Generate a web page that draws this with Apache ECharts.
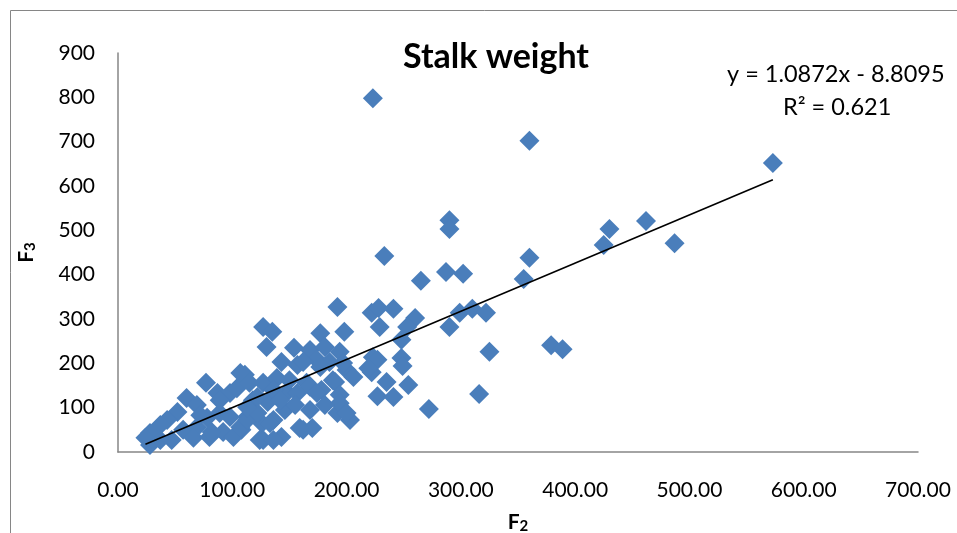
<!DOCTYPE html>
<html>
<head>
<meta charset="utf-8">
<script src="https://cdn.jsdelivr.net/npm/echarts@6/dist/echarts.min.js"></script>
<style>
  html, body { margin: 0; padding: 0; background: #fff; }
  #chart { width: 957px; height: 533px; }
</style>
</head>
<body>
<div id="chart"></div>
<script>
// F2 stalk weight (x) against F3 stalk weight (y)
const f2 = [
  223, 360, 573, 462, 487, 430, 425, 290, 290, 360,
  355, 233, 287, 302, 265, 192, 222, 228, 241, 229,
  260, 253, 299, 310, 322, 290, 379, 389, 325, 248,
  316, 272, 254, 235, 227, 241, 223, 248, 249, 222,
  227, 219, 127, 135, 130, 177, 198, 154, 168, 181,
  194, 143, 157, 174, 185, 200, 206, 188, 165, 177,
  197, 111, 127, 139, 148, 157, 168, 178, 190, 194,
  174, 118, 131, 113, 126, 136, 192, 203, 194, 162,
  170, 127, 143, 108, 107, 77, 60, 69, 87, 98,
  104, 115, 136, 52, 43, 37, 28, 24, 28, 37,
  47, 57, 69, 78, 89, 66, 80, 92, 101, 107,
  113, 122, 98, 82, 124, 136, 133, 122, 113, 162,
  159, 200, 72, 89, 146, 155, 168, 181, 142, 150
];
const f3 = [
  798, 702, 652, 521, 471, 503, 467, 523, 503, 438,
  390, 442, 406, 402, 386, 327, 314, 325, 323, 282,
  302, 282, 314, 323, 314, 282, 241, 232, 226, 253,
  131, 97, 151, 158, 126, 124, 214, 212, 194, 180,
  208, 189, 282, 271, 237, 268, 271, 235, 230, 237,
  226, 203, 196, 208, 203, 185, 169, 162, 156, 192,
  201, 174, 156, 167, 135, 133, 147, 140, 158, 129,
  133, 117, 113, 79, 65, 72, 88, 72, 110, 50,
  54, 27, 34, 50, 178, 156, 122, 106, 133, 133,
  144, 156, 140, 90, 72, 61, 43, 32, 16, 27,
  27, 50, 56, 77, 88, 32, 34, 45, 34, 56,
  72, 88, 79, 45, 27, 27, 65, 124, 101, 203,
  54, 88, 83, 117, 95, 106, 95, 106, 117, 162
];

// least-squares fit shown on the chart
const slope = 1.0872;
const intercept = -8.8095;
const xTicks = [0, 100, 200, 300, 400, 500, 600, 700];
const yTicks = [0, 100, 200, 300, 400, 500, 600, 700, 800, 900];

const points = f2.map((x, i) => [x, f3[i]]);
const xMin = Math.min(...f2), xMax = Math.max(...f2);
const fitLine = [[xMin, slope * xMin + intercept], [xMax, slope * xMax + intercept]];

const LABEL_FONT = 'Lato, "Open Sans", sans-serif';
const chart = echarts.init(document.getElementById('chart'), null, { renderer: 'canvas' });

const nameRich = {
  b: { fontFamily: LABEL_FONT, fontWeight: 'bold', fontSize: 21, color: '#000' },
  s: { fontFamily: LABEL_FONT, fontWeight: 'bold', fontSize: 15, color: '#000', verticalAlign: 'bottom', padding: [9, 0, 0, 0] }
};

chart.setOption({
  animation: false,
  backgroundColor: '#ffffff',
  title: {
    text: 'Stalk weight',
    left: 491, top: 35,
    textAlign: 'center',
    textStyle: { fontFamily: LABEL_FONT, fontWeight: 'bold', fontSize: 34, color: '#000' }
  },
  grid: { left: 118, right: 39, top: 53, bottom: 81, containLabel: false, outerBoundsMode: 'none' },
  xAxis: {
    type: 'value',
    min: xTicks[0], max: xTicks[xTicks.length - 1], interval: 100,
    name: '{b|F}{s|2}',
    nameLocation: 'middle',
    nameGap: 58,
    nameTextStyle: { rich: nameRich },
    axisLine: { show: true, lineStyle: { color: '#868686', width: 1.5 } },
    axisTick: { show: false },
    splitLine: { show: false },
    axisLabel: {
      margin: 28,
      fontFamily: LABEL_FONT, fontSize: 21, color: '#000',
      formatter: v => v.toFixed(2)
    }
  },
  yAxis: {
    type: 'value',
    min: yTicks[0], max: yTicks[yTicks.length - 1], interval: 100,
    name: '{b|F}{s|3}',
    nameLocation: 'middle',
    nameGap: 80,
    nameRotate: 90,
    nameTextStyle: { rich: nameRich },
    axisLine: { show: true, lineStyle: { color: '#868686', width: 1.5 } },
    axisTick: { show: false },
    splitLine: { show: false },
    axisLabel: { margin: 23, fontFamily: LABEL_FONT, fontSize: 21, color: '#000' }
  },
  graphic: [
    {
      type: 'rect', z: -1, silent: true,
      shape: { x: 10.5, y: 10.5, width: 1000, height: 600 },
      style: { fill: 'none', stroke: '#868686', lineWidth: 1 }
    },
    {
      type: 'text', left: 727, top: 62,
      style: { text: 'y = 1.0872x - 8.8095', fontFamily: LABEL_FONT, fontSize: 23.5, fill: '#000' }
    },
    {
      type: 'text', left: 783, top: 95,
      style: { text: 'R² = 0.621', fontFamily: LABEL_FONT, fontSize: 23.5, fill: '#000' }
    }
  ],
  series: [
    {
      type: 'scatter',
      data: points,
      symbol: 'diamond',
      symbolSize: 20,
      itemStyle: { color: '#4A7EBB', opacity: 1 },
      z: 2
    },
    {
      type: 'line',
      data: fitLine,
      symbol: 'none',
      lineStyle: { color: '#000', width: 1.6 },
      z: 3
    }
  ]
});
</script>
</body>
</html>
